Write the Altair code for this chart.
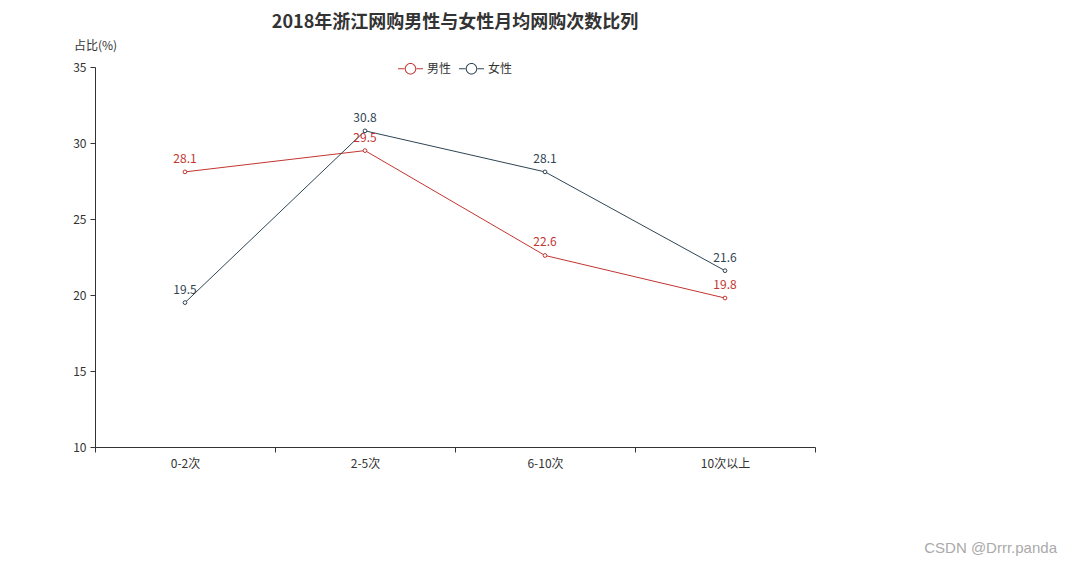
import altair as alt
import pandas as pd

categories = ["0-2次", "2-5次", "6-10次", "10次以上"]
male = [28.1, 29.5, 22.6, 19.8]
female = [19.5, 30.8, 28.1, 21.6]
series = ["男性", "女性"]
colors = ["#c23531", "#2f4554"]

rows = []
for c, m, f in zip(categories, male, female):
    rows.append({"cat": c, "val": m, "s": "男性"})
    rows.append({"cat": c, "val": f, "s": "女性"})
df = pd.DataFrame(rows)

FONT = "Noto Sans CJK SC"
legend_shape = ("M-1,-0.045H-0.44V0.045H-1Z"
                "M0.44,-0.045H1V0.045H0.44Z"
                "M0.46,0A0.46,0.46 0 1,0 -0.46,0A0.46,0.46 0 1,0 0.46,0Z"
                "M0.38,0A0.38,0.38 0 1,1 -0.38,0A0.38,0.38 0 1,1 0.38,0Z")

x = alt.X("cat:N", sort=categories,
          scale=alt.Scale(paddingInner=0, paddingOuter=0),
          axis=alt.Axis(title=None, labelAngle=0, tickBand="extent", grid=False,
                        domainColor="#333", tickColor="#333", labelColor="#333",
                        labelFontSize=12, labelFont=FONT, tickSize=5, labelPadding=6))
y = alt.Y("val:Q", scale=alt.Scale(domain=[10, 35], nice=False, zero=False),
          axis=alt.Axis(title="占比(%)", titleAngle=0, titleX=0, titleY=-15,
                        titleAlign="center", titleBaseline="bottom",
                        titleFontWeight="normal", titleFontSize=12, titleColor="#333",
                        titleFont=FONT, values=[10, 15, 20, 25, 30, 35], grid=False,
                        domainColor="#333", tickColor="#333", labelColor="#333",
                        labelFontSize=12, labelFont=FONT, tickSize=5, labelPadding=4))
cscale = alt.Scale(domain=series, range=colors)

base = alt.Chart(df)
lines = base.mark_line(strokeWidth=1).encode(
    x=x, y=y,
    color=alt.Color("s:N", scale=cscale,
                    legend=alt.Legend(title=None, orient="none", direction="horizontal",
                                      legendX=303, legendY=-11, symbolType=legend_shape,
                                      symbolSize=625, symbolStrokeWidth=0,
                                      labelFontSize=12, labelFont=FONT, labelColor="#333",
                                      labelOffset=4, columnPadding=7)))
pts = base.mark_point(shape="circle", filled=True, fill="white", size=14,
                      strokeWidth=1, opacity=1).encode(
    x=x, y=y, stroke=alt.Stroke("s:N", scale=cscale, legend=None))
labels = base.mark_text(dy=-6, baseline="bottom", fontSize=12, font=FONT).encode(
    x=x, y=y, text=alt.Text("val:Q", format=".1f"),
    color=alt.Color("s:N", scale=cscale, legend=None))
wm = alt.Chart(pd.DataFrame({"t": ["CSDN @Drrr.panda"]})).mark_text(
    align="right", baseline="bottom", fontSize=15, font="Liberation Sans", color="#aaaaaa"
).encode(x=alt.value(962), y=alt.value(489), text="t:N")

chart = alt.layer(lines, pts, labels, wm).properties(
    width=720, height=380,
    title=alt.TitleParams("2018年浙江网购男性与女性月均网购次数比列", anchor="middle",
                          fontSize=18, fontWeight="bold", font=FONT, color="#333", offset=7),
    padding={"left": 87, "top": 59, "right": 249, "bottom": 110},
    autosize=alt.AutoSizeParams(type="none"),
    background="white",
).configure_view(stroke=None, strokeWidth=0)

chart.save("out.html", embed_options={"renderer": "svg", "actions": False})
